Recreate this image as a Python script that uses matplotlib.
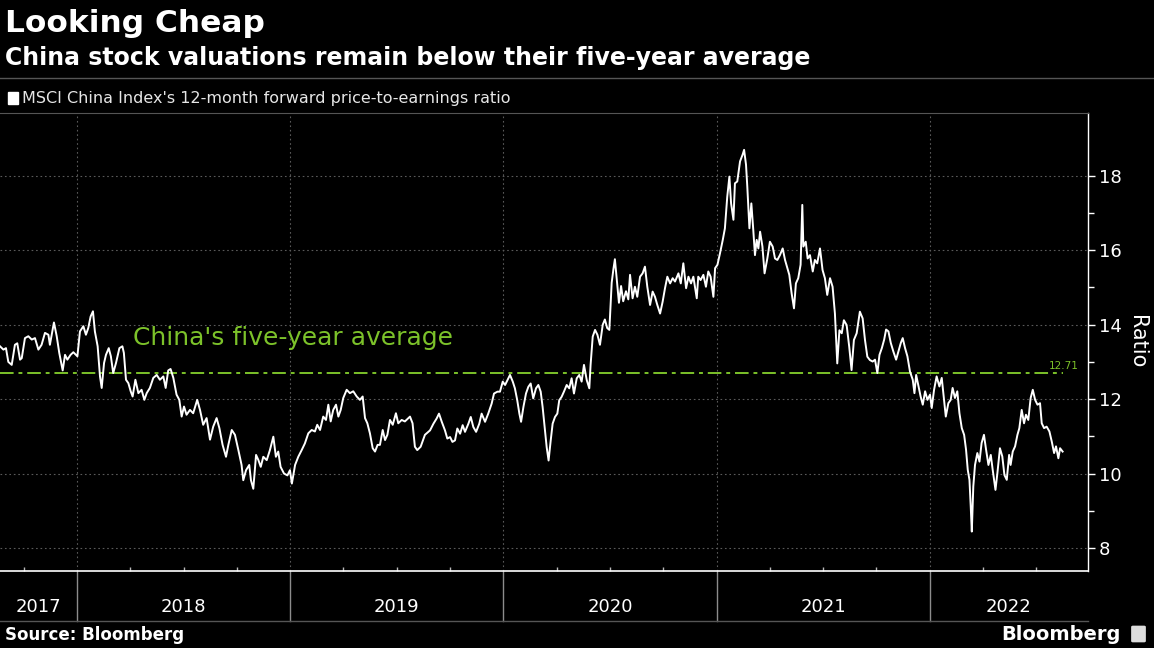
import numpy as np
import matplotlib.pyplot as plt
from matplotlib.transforms import blended_transform_factory
from matplotlib.patches import Rectangle, FancyBboxPatch

# decimal year
years = [
    2017.639, 2017.655, 2017.667, 2017.678, 2017.694, 2017.709, 2017.720, 2017.733, 2017.741, 2017.756,
    2017.772, 2017.788, 2017.803, 2017.819, 2017.834, 2017.850, 2017.866, 2017.873, 2017.892, 2017.905,
    2017.917, 2017.933, 2017.944, 2017.955, 2017.970, 2017.983, 2018.002, 2018.014, 2018.030, 2018.042,
    2018.053, 2018.064, 2018.075, 2018.084, 2018.097, 2018.108, 2018.116, 2018.127, 2018.136, 2018.149,
    2018.159, 2018.170, 2018.183, 2018.199, 2018.213, 2018.220, 2018.230, 2018.241, 2018.252, 2018.261,
    2018.274, 2018.288, 2018.303, 2018.316, 2018.327, 2018.342, 2018.358, 2018.374, 2018.389, 2018.405,
    2018.416, 2018.428, 2018.439, 2018.452, 2018.467, 2018.480, 2018.491, 2018.502, 2018.514, 2018.530,
    2018.545, 2018.564, 2018.577, 2018.592, 2018.608, 2018.624, 2018.639, 2018.655, 2018.668, 2018.683,
    2018.699, 2018.710, 2018.726, 2018.741, 2018.757, 2018.772, 2018.780, 2018.793, 2018.808, 2018.816,
    2018.827, 2018.840, 2018.851, 2018.862, 2018.874, 2018.890, 2018.905, 2018.921, 2018.933, 2018.944,
    2018.955, 2018.971, 2018.987, 2018.999, 2019.008, 2019.023, 2019.038, 2019.054, 2019.069, 2019.085,
    2019.101, 2019.116, 2019.127, 2019.140, 2019.155, 2019.168, 2019.179, 2019.190, 2019.202, 2019.215,
    2019.226, 2019.237, 2019.249, 2019.265, 2019.280, 2019.296, 2019.312, 2019.327, 2019.340, 2019.351,
    2019.362, 2019.374, 2019.387, 2019.398, 2019.410, 2019.421, 2019.434, 2019.445, 2019.456, 2019.468,
    2019.481, 2019.496, 2019.507, 2019.523, 2019.538, 2019.562, 2019.574, 2019.585, 2019.596, 2019.612,
    2019.632, 2019.656, 2019.672, 2019.687, 2019.698, 2019.711, 2019.726, 2019.737, 2019.750, 2019.761,
    2019.773, 2019.784, 2019.797, 2019.809, 2019.820, 2019.836, 2019.847, 2019.859, 2019.872, 2019.887,
    2019.898, 2019.914, 2019.929, 2019.945, 2019.956, 2019.972, 2019.984, 2019.997, 2020.008, 2020.019,
    2020.031, 2020.044, 2020.054, 2020.065, 2020.075, 2020.083, 2020.094, 2020.106, 2020.117, 2020.128,
    2020.140, 2020.153, 2020.164, 2020.175, 2020.184, 2020.195, 2020.203, 2020.212, 2020.222, 2020.231,
    2020.242, 2020.253, 2020.262, 2020.273, 2020.284, 2020.297, 2020.309, 2020.320, 2020.331, 2020.344,
    2020.356, 2020.367, 2020.378, 2020.391, 2020.403, 2020.409, 2020.419, 2020.430, 2020.441, 2020.453,
    2020.466, 2020.476, 2020.487, 2020.497, 2020.508, 2020.516, 2020.523, 2020.531, 2020.542, 2020.552,
    2020.562, 2020.575, 2020.586, 2020.594, 2020.606, 2020.617, 2020.628, 2020.641, 2020.653, 2020.664,
    2020.675, 2020.688, 2020.700, 2020.711, 2020.722, 2020.735, 2020.747, 2020.758, 2020.769, 2020.782,
    2020.794, 2020.805, 2020.821, 2020.832, 2020.844, 2020.857, 2020.868, 2020.880, 2020.891, 2020.907,
    2020.914, 2020.925, 2020.938, 2020.950, 2020.961, 2020.972, 2020.985, 2020.993, 2021.004, 2021.016,
    2021.029, 2021.039, 2021.050, 2021.060, 2021.068, 2021.079, 2021.086, 2021.097, 2021.110, 2021.122,
    2021.129, 2021.138, 2021.144, 2021.154, 2021.163, 2021.172, 2021.180, 2021.188, 2021.196, 2021.204,
    2021.215, 2021.225, 2021.238, 2021.250, 2021.263, 2021.274, 2021.285, 2021.297, 2021.310, 2021.321,
    2021.332, 2021.341, 2021.352, 2021.363, 2021.372, 2021.383, 2021.394, 2021.402, 2021.407, 2021.418,
    2021.427, 2021.438, 2021.451, 2021.461, 2021.472, 2021.485, 2021.497, 2021.508, 2021.519, 2021.532,
    2021.544, 2021.555, 2021.566, 2021.576, 2021.587, 2021.597, 2021.610, 2021.622, 2021.633, 2021.644,
    2021.657, 2021.672, 2021.685, 2021.696, 2021.707, 2021.719, 2021.732, 2021.743, 2021.754, 2021.764,
    2021.775, 2021.786, 2021.795, 2021.806, 2021.817, 2021.829, 2021.842, 2021.853, 2021.864, 2021.873,
    2021.884, 2021.895, 2021.907, 2021.920, 2021.928, 2021.936, 2021.947, 2021.957, 2021.967, 2021.978,
    2021.989, 2022.001, 2022.009, 2022.020, 2022.032, 2022.045, 2022.056, 2022.064, 2022.075, 2022.087,
    2022.098, 2022.107, 2022.118, 2022.129, 2022.139, 2022.150, 2022.161, 2022.170, 2022.178, 2022.186,
    2022.192, 2022.197, 2022.204, 2022.212, 2022.223, 2022.233, 2022.243, 2022.254, 2022.264, 2022.275,
    2022.286, 2022.295, 2022.308, 2022.317, 2022.329, 2022.340, 2022.350, 2022.361, 2022.372, 2022.379,
    2022.389, 2022.400, 2022.411, 2022.420, 2022.431, 2022.442, 2022.451, 2022.462, 2022.473, 2022.483,
    2022.494, 2022.505, 2022.517, 2022.525, 2022.536, 2022.548, 2022.561, 2022.572, 2022.583, 2022.592,
    2022.603, 2022.611, 2022.623,
]

pe_ratio = [
    13.42, 13.33, 13.37, 13.00, 12.92, 13.46, 13.50, 13.06, 13.10, 13.64,
    13.69, 13.60, 13.64, 13.33, 13.46, 13.78, 13.73, 13.46, 14.06, 13.69,
    13.24, 12.77, 13.19, 13.06, 13.19, 13.26, 13.15, 13.82, 13.96, 13.73,
    13.91, 14.22, 14.36, 13.82, 13.42, 12.61, 12.30, 12.97, 13.19, 13.37,
    13.15, 12.70, 12.97, 13.37, 13.42, 13.24, 12.52, 12.43, 12.21, 12.07,
    12.52, 12.16, 12.25, 11.98, 12.16, 12.30, 12.57, 12.65, 12.52, 12.61,
    12.30, 12.77, 12.81, 12.57, 12.12, 11.98, 11.53, 11.80, 11.58, 11.71,
    11.62, 11.98, 11.71, 11.31, 11.49, 10.91, 11.26, 11.49, 11.22, 10.77,
    10.45, 10.77, 11.17, 11.04, 10.63, 10.23, 9.82, 10.09, 10.23, 9.82,
    9.59, 10.50, 10.36, 10.18, 10.45, 10.36, 10.63, 10.99, 10.45, 10.59,
    10.18, 10.00, 9.95, 10.09, 9.73, 10.23, 10.45, 10.63, 10.81, 11.08,
    11.17, 11.13, 11.31, 11.17, 11.53, 11.44, 11.85, 11.40, 11.71, 11.85,
    11.53, 11.71, 12.03, 12.25, 12.16, 12.21, 12.07, 11.98, 12.07, 11.49,
    11.35, 11.08, 10.68, 10.59, 10.77, 10.77, 11.17, 10.90, 11.04, 11.44,
    11.31, 11.62, 11.35, 11.44, 11.40, 11.53, 11.35, 10.72, 10.63, 10.72,
    11.04, 11.16, 11.34, 11.48, 11.61, 11.39, 11.16, 10.94, 10.98, 10.85,
    10.89, 11.21, 11.07, 11.30, 11.12, 11.34, 11.52, 11.25, 11.12, 11.34,
    11.61, 11.39, 11.61, 11.88, 12.15, 12.20, 12.20, 12.47, 12.38, 12.51,
    12.65, 12.47, 12.29, 11.97, 11.61, 11.39, 11.79, 12.15, 12.33, 12.42,
    12.02, 12.29, 12.38, 12.20, 11.79, 11.16, 10.71, 10.35, 10.89, 11.34,
    11.52, 11.61, 11.97, 12.06, 12.20, 12.38, 12.29, 12.56, 12.15, 12.56,
    12.65, 12.47, 12.92, 12.51, 12.29, 12.92, 13.68, 13.86, 13.73, 13.46,
    14.00, 14.14, 13.91, 13.86, 15.13, 15.49, 15.76, 15.26, 14.59, 15.04,
    14.63, 14.90, 14.68, 15.34, 14.71, 15.02, 14.75, 15.29, 15.38, 15.56,
    15.02, 14.53, 14.89, 14.75, 14.53, 14.30, 14.62, 14.98, 15.29, 15.11,
    15.25, 15.16, 15.38, 15.11, 15.65, 14.98, 15.29, 15.11, 15.29, 14.71,
    15.29, 15.20, 15.34, 15.02, 15.43, 15.29, 14.75, 15.52, 15.61, 15.92,
    16.28, 16.59, 17.44, 17.98, 17.26, 16.82, 17.80, 17.85, 18.39, 18.57,
    18.70, 18.30, 17.71, 16.59, 17.26, 16.55, 15.87, 16.28, 16.05, 16.50,
    16.10, 15.38, 15.78, 16.23, 16.10, 15.78, 15.74, 15.87, 16.05, 15.74,
    15.52, 15.34, 14.84, 14.44, 15.11, 15.25, 15.61, 17.22, 16.10, 16.23,
    15.78, 15.87, 15.43, 15.74, 15.65, 16.05, 15.47, 15.25, 14.80, 15.25,
    15.02, 14.30, 12.96, 13.85, 13.77, 14.12, 13.99, 13.41, 12.78, 13.59,
    13.77, 14.35, 14.17, 13.59, 13.14, 13.05, 13.01, 13.06, 12.70, 13.19,
    13.37, 13.60, 13.87, 13.82, 13.51, 13.28, 13.06, 13.28, 13.51, 13.64,
    13.37, 13.15, 12.74, 12.52, 12.16, 12.65, 12.34, 12.07, 11.85, 12.21,
    11.98, 12.12, 11.76, 12.25, 12.61, 12.34, 12.57, 12.12, 11.53, 11.89,
    11.98, 12.30, 12.03, 12.21, 11.62, 11.22, 11.04, 10.64, 10.10, 9.83,
    9.11, 8.44, 9.65, 10.23, 10.55, 10.32, 10.82, 11.04, 10.64, 10.23,
    10.50, 10.10, 9.56, 10.01, 10.68, 10.46, 9.96, 9.83, 10.50, 10.23,
    10.59, 10.73, 11.04, 11.22, 11.71, 11.35, 11.58, 11.44, 12.03, 12.25,
    11.98, 11.85, 11.89, 11.35, 11.22, 11.26, 11.13, 10.86, 10.55, 10.73,
    10.41, 10.68, 10.59,
]

five_year_avg = 12.71
year_ticks = [2018, 2019, 2020, 2021, 2022]
x_start, x_end = 2017.639, 2022.742

GREEN = "#7cc22a"
GRID = "#5a5a5a"
SEP = "#8c8c8c"

fig = plt.figure(figsize=(11.54, 6.48), dpi=100, facecolor="black")
ax = fig.add_axes([0, 1 - 571 / 648, 1088 / 1154, (571 - 113) / 648])
ax.set_facecolor("black")

ax.plot(years, pe_ratio, color="white", lw=1.4, solid_joinstyle="round", zorder=3)
ax.plot([x_start, years[-1]], [five_year_avg, five_year_avg], color=GREEN, lw=1.4,
        dashes=(7, 2.5, 2, 2.5), zorder=2)

ax.set_xlim(x_start, x_end)
ax.set_ylim(7.38, 19.69)

# y axis on the right
ax.yaxis.tick_right()
ax.set_yticks(range(8, 19, 2))
ax.set_yticks(range(9, 19, 2), minor=True)
ax.tick_params(axis="y", which="major", colors="white", labelsize=13, length=5, width=1, pad=3)
ax.tick_params(axis="y", which="minor", colors="white", length=4, width=1)
ax.yaxis.set_label_position("right")
ax.set_ylabel("Ratio", color="white", fontsize=15, rotation=270, labelpad=18)

# x axis: quarter ticks, year separators below
quarters = [y + q for y in range(2017, 2023) for q in (0.25, 0.5, 0.75)
            if x_start < y + q < x_end]
ax.set_xticks(year_ticks)
ax.set_xticklabels([])
ax.set_xticks(quarters, minor=True)
ax.tick_params(axis="x", which="major", length=0)
ax.tick_params(axis="x", which="minor", direction="in", length=3, width=1, colors="#bbbbbb")

ax.grid(True, which="major", color=GRID, ls=(0, (1.5, 2.5)), lw=0.8)
ax.set_axisbelow(True)

ax.spines["left"].set_visible(False)
ax.spines["right"].set_color("white")
ax.spines["bottom"].set_color("white")
ax.spines["top"].set_color("#555555")
ax.spines["right"].set_linewidth(1)
ax.spines["bottom"].set_linewidth(1.2)

trans = blended_transform_factory(ax.transData, ax.transAxes)
sep_depth = -50 / 458
for yr in year_ticks:
    ax.plot([yr, yr], [0, sep_depth], color=SEP, lw=1, transform=trans, clip_on=False)
ax.plot([0, 1], [sep_depth, sep_depth], color="#555555", lw=1, transform=ax.transAxes,
        clip_on=False)

bounds = [x_start] + year_ticks + [x_end]
for i in range(len(bounds) - 1):
    ax.text((bounds[i] + bounds[i + 1]) / 2, -36 / 458, str(2017 + i), color="white",
            fontsize=13, ha="center", va="center", transform=trans)

# annotations
ax.text(2018.263, 13.65, "China's five-year average", color=GREEN, fontsize=18,
        ha="left", va="center")
ax.text(2022.70, five_year_avg + 0.05, f"{five_year_avg:.2f}", color=GREEN, fontsize=7.5,
        ha="right", va="bottom")

# header
fig.text(5 / 1154, 1 - 23 / 648, "Looking Cheap", color="white", fontsize=22.5,
         fontweight="bold", ha="left", va="center")
fig.text(5 / 1154, 1 - 58 / 648, "China stock valuations remain below their five-year average",
         color="white", fontsize=17, fontweight="bold", ha="left", va="center")
fig.add_artist(plt.Line2D([0, 1], [1 - 78 / 648] * 2, color="#555555", lw=1))
fig.add_artist(Rectangle((8 / 1154, 1 - 104 / 648), 10 / 1154, 12 / 648, color="white",
                         transform=fig.transFigure))
fig.text(22 / 1154, 1 - 98 / 648, "MSCI China Index's 12-month forward price-to-earnings ratio",
         color="#e6e6e6", fontsize=11.5, ha="left", va="center")

# footer
fig.text(5 / 1154, 1 - 635 / 648, "Source: Bloomberg", color="white", fontsize=12,
         fontweight="bold", ha="left", va="center")
fig.text(1121 / 1154, 1 - 634 / 648, "Bloomberg", color="white", fontsize=14,
         fontweight="bold", ha="right", va="center")
fig.add_artist(FancyBboxPatch((1133 / 1154, 1 - 641 / 648), 11 / 1154, 14 / 648,
                              boxstyle="round,pad=0.001", color="#dddddd",
                              transform=fig.transFigure))

fig.savefig("out.png", dpi=100, facecolor="black")
